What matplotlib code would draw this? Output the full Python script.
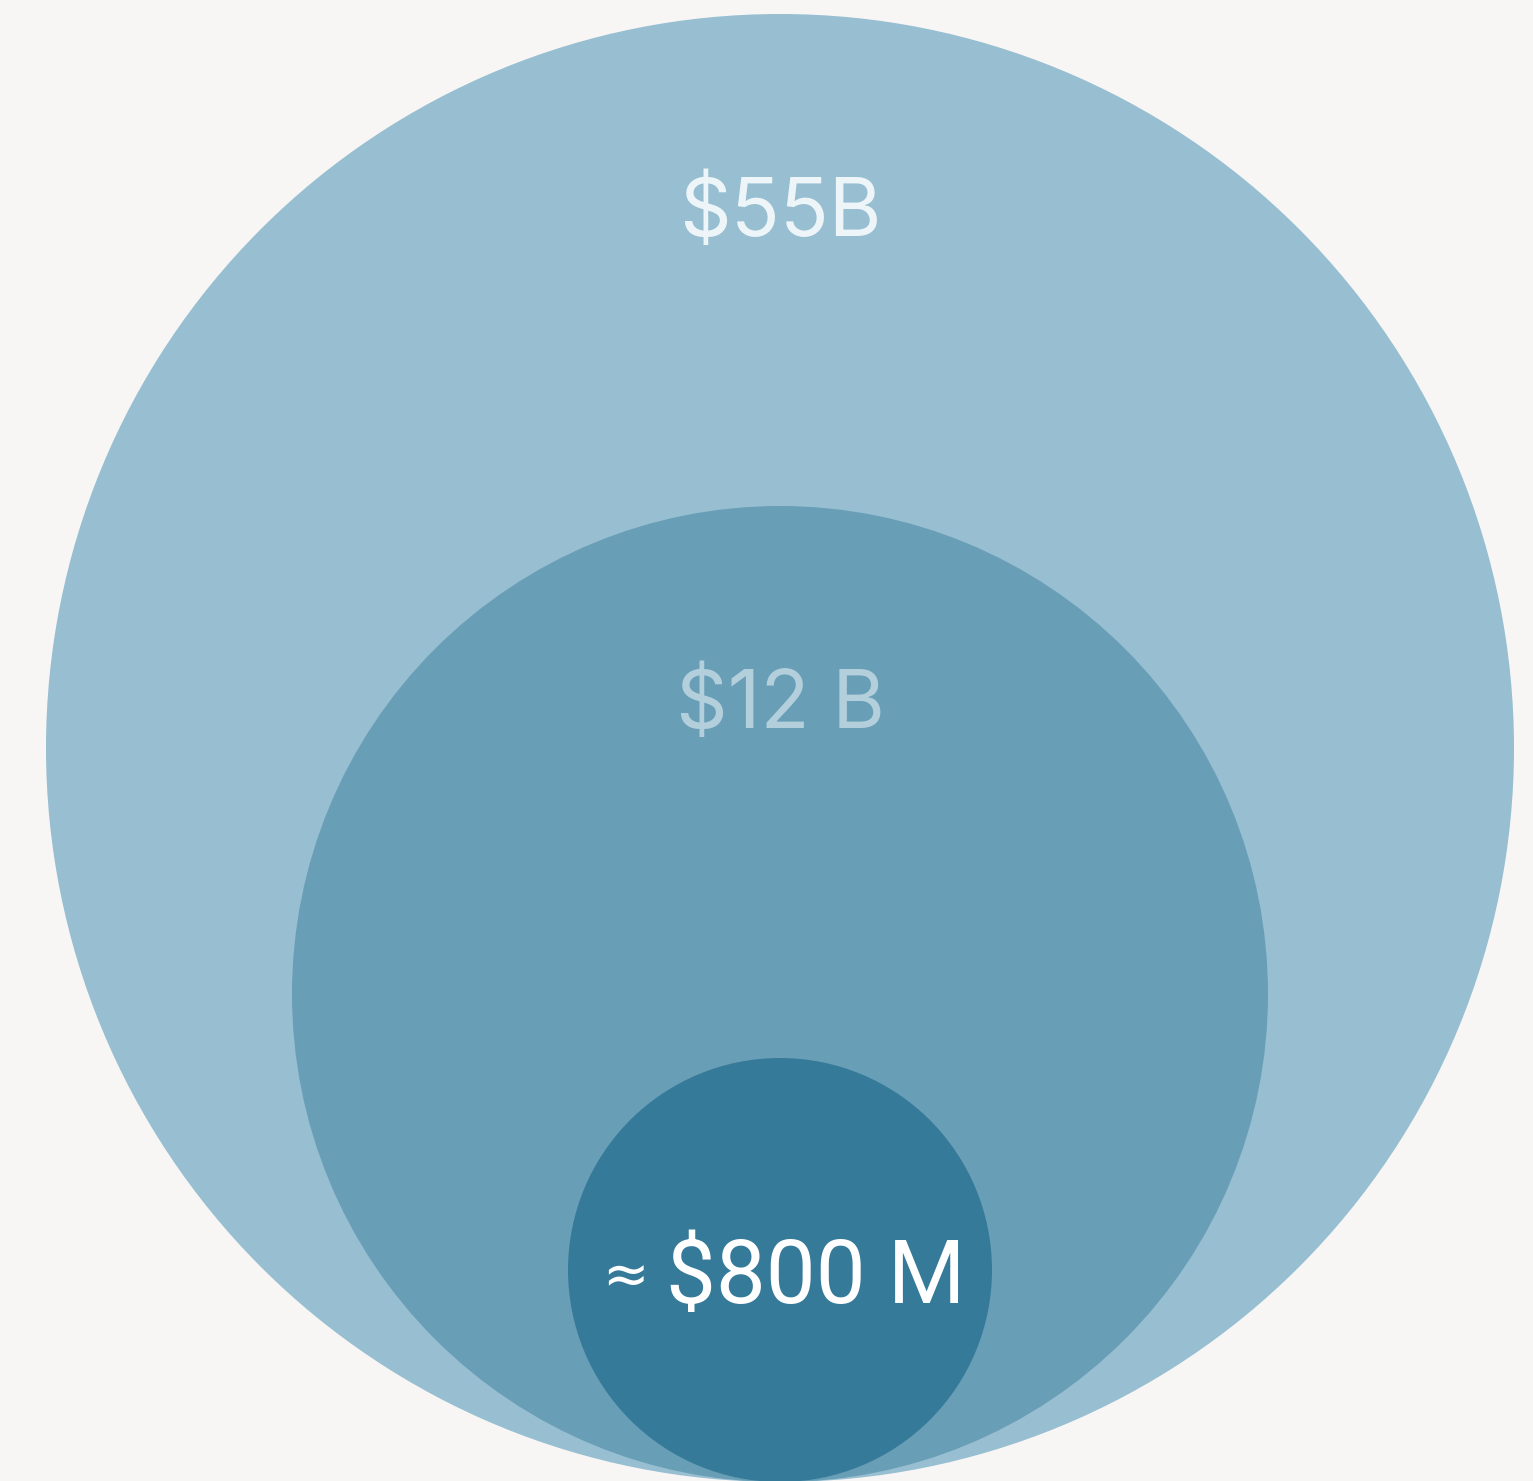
import matplotlib
matplotlib.use("Agg")
import matplotlib.pyplot as plt
from matplotlib.patches import Circle

# market sizes (billions USD) and their labels
values = [55, 12, 0.8]
labels = ["$55B", "$12 B", "$800 M"]
prefixes = ["", "", "≈"]

# display radii in pixels (not area-proportional in the original)
radii = [734, 488, 212]
fills = ["#97bed1", "#689eb6", "#367a99"]
text_colors = ["#eef5f9", "#b3cfdc", "#ffffff"]
text_fonts = ["Inter", "Inter", "Roboto"]
text_sizes = [58, 58, 64]
text_offsets = [533, 287, -8]   # label distance above circle centre
text_dx = [0, 0, 36]

W, H = 1533, 1481
bottom = 1482
cx = 780

fig = plt.figure(figsize=(W / 100, H / 100), dpi=100)
fig.patch.set_facecolor("#f7f6f5")
ax = fig.add_axes([0, 0, 1, 1])
ax.set_xlim(0, W)
ax.set_ylim(H, 0)
ax.set_aspect("equal")
ax.axis("off")

for lab, pre, r, fc, tc, fn, fs, off, dx in zip(labels, prefixes, radii, fills,
                                               text_colors, text_fonts, text_sizes,
                                               text_offsets, text_dx):
    cy = bottom - r
    ax.add_patch(Circle((cx, cy), r, facecolor=fc, edgecolor="none"))
    ax.text(cx + dx, cy - off, lab, color=tc, fontsize=fs,
            ha="center", va="center", family=[fn, "DejaVu Sans"])
    if pre:
        ax.text(625, cy - off, pre, color=tc, fontsize=40,
                ha="center", va="center", family=["DejaVu Sans"])

fig.savefig("out.png", dpi=100, facecolor=fig.get_facecolor())
